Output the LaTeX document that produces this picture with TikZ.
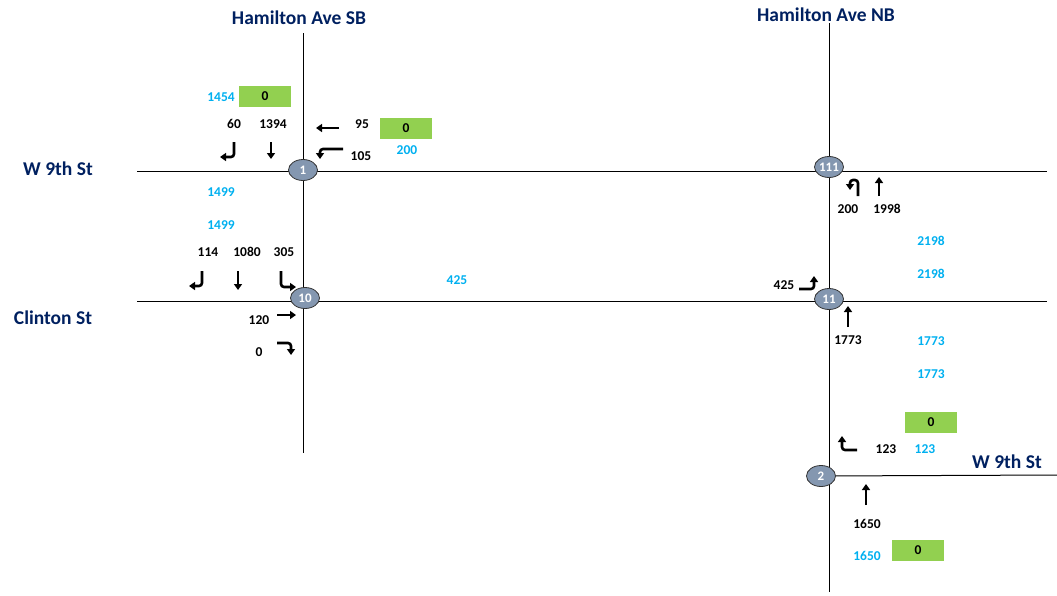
\documentclass[tikz,border=0pt]{standalone}
\usepackage{fontspec}
\setmainfont{Carlito}
\usetikzlibrary{arrows.meta, shapes.geometric}
\definecolor{streetblue}{RGB}{0,32,96}
\definecolor{volcyan}{RGB}{0,176,240}
\definecolor{zerogreen}{RGB}{146,208,80}
\definecolor{intergray}{RGB}{132,151,176}

\begin{document}
\begin{tikzpicture}[x=1pt, y=-1pt,
      road/.style={line width=1pt, black},
      inter/.style={ellipse, draw=black!80, fill=intergray, line width=0.8pt,
                    minimum width=29pt, minimum height=21pt, inner sep=0pt,
                    text=white, font=\bfseries\fontsize{13}{13}\selectfont},
      vol/.style={font=\bfseries\fontsize{13.5}{13.5}\selectfont, inner sep=0pt},
      volc/.style={vol, text=volcyan},
      zbox/.style={vol, fill=zerogreen, minimum width=52pt, minimum height=21pt},
      street/.style={text=streetblue, font=\bfseries\fontsize{19.5}{19.5}\selectfont},
      turn/.style={line width=2.6pt, rounded corners=3pt,
                   -{Triangle[length=6pt, width=8pt]}}]
    \useasboundingbox (0,0) rectangle (1057,595);
    % road ends
    \coordinate (sbN) at (303,33);   \coordinate (sbS) at (303,453);
    \coordinate (nbN) at (829,23);   \coordinate (nbS) at (829,592);
    \coordinate (w9W) at (137,171);  \coordinate (w9E) at (1047,171);
    \coordinate (clW) at (137,301);  \coordinate (clE) at (1047,301);
    \coordinate (w9bE) at (1057,475);
    \draw[road] (sbN) -- (sbS);
    \draw[road] (nbN) -- (nbS);
    \draw[road] (w9W) -- (w9E);
    \draw[road] (clW) -- (clE);
    % intersections
    \node[inter] (n1)   at (303,170) {1};
    \node[inter] (n10)  at (305,298) {10};
    \node[inter] (n111) at (829,167) {111};
    \node[inter] (n11)  at (829,299) {11};
    \node[inter] (n2)   at (821,476) {2};
    \draw[road] (n2) -- (w9bE);
    % street names
    \node[street] (sbName) at (299,18)  {Hamilton Ave SB};
    \node[street] (nbName) at (826,15)  {Hamilton Ave NB};
    \node[street] (w9Name) at (58,169)  {W 9th St};
    \node[street] (clName) at (53,318)  {Clinton St};
    \node[street] (w9bName) at (1007,462) {W 9th St};
    % intersection 1
    \node[volc] (n1in)  at (221,97)  {1454};
    \node[zbox] (n1z)   at (265,96)  {0};
    \node[vol]  (n1sl)  at (234,124) {60};
    \node[vol]  (n1st)  at (273,124) {1394};
    \node[vol]  (n1wt)  at (362,124) {95};
    \node[zbox] (n1wz)  at (406,128) {0};
    \node[volc] (n1win) at (407,150) {200};
    \node[vol]  (n1wl)  at (361,156) {105};
    \draw[turn] (234,142) |- (220,157);
    \draw[turn] (271,142) -- (271,159);
    \draw[turn] (339,128) -- (316,128);
    \draw[turn] (343,149) -| (320,159);
    % between 1 and 10
    \node[volc] (l1a) at (221,192) {1499};
    \node[volc] (l1b) at (221,225) {1499};
    % intersection 10
    \node[vol] (n10sl) at (208,252) {114};
    \node[vol] (n10st) at (247,252) {1080};
    \node[vol] (n10sr) at (284,252) {305};
    \node[vol] (n10et) at (259,320) {120};
    \node[vol] (n10er) at (259,352) {0};
    \draw[turn] (202,271) |- (189,286);
    \draw[turn] (238,271) -- (238,290);
    \draw[turn] (281,271) |- (296,287);
    \draw[turn] (277,315) -- (296,315);
    \draw[turn] (277,343) -| (291,355);
    \node[volc] (clLink) at (457,280) {425};
    % intersection 111
    \node[vol] (n111nl) at (848,209) {200};
    \node[vol] (n111nt) at (887,209) {1998};
    \draw[turn] (858,196) -- (858,180) -- (850,180) -- (850,190);
    \draw[turn] (879,196) -- (879,177);
    \node[volc] (l2a) at (931,241) {2198};
    \node[volc] (l2b) at (931,274) {2198};
    % intersection 11
    \node[vol] (n11el) at (784,285) {425};
    \draw[turn] (799,289) -| (814,276);
    \node[vol] (n11nt) at (848,340) {1773};
    \draw[turn] (848,327) -- (848,306);
    \node[volc] (l3a) at (931,341) {1773};
    \node[volc] (l3b) at (931,374) {1773};
    % intersection 2
    \node[zbox] (n2wz)  at (931,422) {0};
    \node[vol]  (n2wl)  at (886,449) {123};
    \node[volc] (n2win) at (925,449) {123};
    \draw[turn] (857,450) -| (842,436);
    \draw[turn] (866,505) -- (866,484);
    \node[vol]  (n2nt)  at (867,524) {1650};
    \node[volc] (n2nin) at (867,556) {1650};
    \node[zbox] (n2nz)  at (918,550) {0};
\end{tikzpicture}
\end{document}
